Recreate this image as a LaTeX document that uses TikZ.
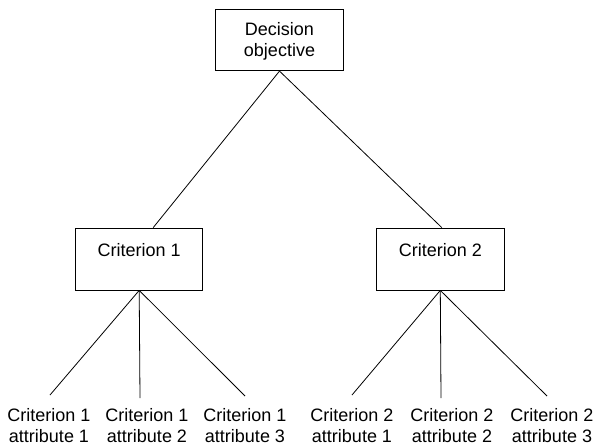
\documentclass[tikz,border=0pt]{standalone}
\usepackage{fontspec}
\setmainfont{Liberation Sans}
\begin{document}
\begin{tikzpicture}[x=1pt,y=-1pt,
  box/.style={draw, line width=0.8pt, inner sep=0pt, align=center, font=\fontsize{18}{21}\selectfont},
  lbl/.style={inner sep=0pt, align=center, anchor=base, font=\fontsize{18}{21}\selectfont},
  edge/.style={line width=0.8pt}]
\useasboundingbox (0,0) rectangle (597,447);
\node[box, minimum width=127.6pt, text height=47.7pt, text depth=14pt] (obj) at (279.5,39.85) {Decision\\objective};
\node[box, minimum width=127pt, text height=28.7pt, text depth=33.3pt] (c1) at (139.2,259) {Criterion 1};
\node[box, minimum width=127.3pt, text height=28.7pt, text depth=33.3pt] (c2) at (440.3,259) {Criterion 2};
\draw[edge] (obj.south) -- ([xshift=14pt]c1.north);
\draw[edge] (obj.south) -- ([xshift=1.5pt]c2.north);
\coordinate (a11) at (50,395);
\coordinate (a12) at (140,398);
\coordinate (a13) at (245,396);
\coordinate (a21) at (352,395);
\coordinate (a22) at (441,398);
\coordinate (a23) at (547,396);
\draw[edge] (c1.south) -- (a11);
\draw[edge] (c1.south) -- (a12);
\draw[edge] (c1.south) -- (a13);
\draw[edge] (c2.south) -- (a21);
\draw[edge] (c2.south) -- (a22);
\draw[edge] (c2.south) -- (a23);
\node[lbl] (l11) at (49,442.7) {Criterion 1\\attribute 1};
\node[lbl] (l12) at (147,442.7) {Criterion 1\\attribute 2};
\node[lbl] (l13) at (245,442.7) {Criterion 1\\attribute 3};
\node[lbl] (l21) at (352,442.7) {Criterion 2\\attribute 1};
\node[lbl] (l22) at (452,442.7) {Criterion 2\\attribute 2};
\node[lbl] (l23) at (552,442.7) {Criterion 2\\attribute 3};
\end{tikzpicture}
\end{document}
